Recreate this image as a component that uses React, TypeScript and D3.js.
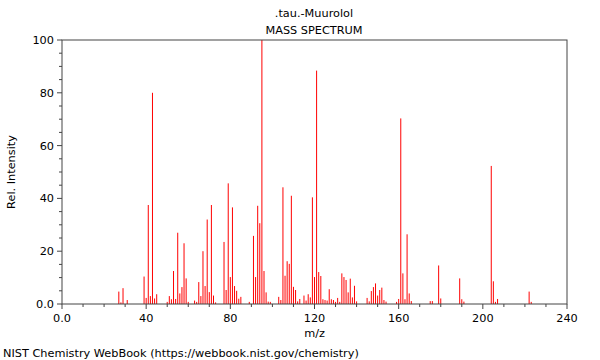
import React from "react";
import * as d3 from "d3";

const mzValues = [
  27, 28, 29, 31, 39, 40, 41, 42, 43, 44, 45, 50, 51, 52, 53, 54, 55, 56, 57, 58, 59, 60,
  63, 64, 65, 66, 67, 68, 69, 70, 71, 72, 73, 77, 78, 79, 80, 81, 82, 83, 84, 85, 89,
  91, 92, 93, 94, 95, 96, 97, 98, 99, 103, 104, 105, 106, 107, 108, 109, 110, 111, 112,
  113, 115, 116, 117, 118, 119, 120, 121, 122, 123, 124, 125, 126, 127, 128, 129, 130,
  131, 132, 133, 134, 135, 136, 137, 138, 139, 140, 145, 146, 147, 148, 149, 150, 151,
  152, 153, 154, 159, 160, 161, 162, 163, 164, 165, 166, 175, 176, 179, 180, 189, 190,
  191, 204, 205, 206, 207, 222, 223,
];
const intensities = [
  4.7, 0.6, 6, 1.5, 10.4, 2.3, 37.5, 3, 80, 2.1, 3.7, 0.8, 3, 1.8, 12.5, 1.9, 27, 4, 6.4, 23, 9.7, 0.8,
  1.3, 0.8, 8.3, 3, 20, 6.8, 32, 4.5, 37.5, 3.2, 0.6, 23.5, 5.3, 45.7, 10.2, 36.6, 6.8, 5, 2, 2.7, 0.8,
  25.8, 10.2, 37.2, 30.6, 100, 12.5, 4.4, 0.9, 0.8, 2.7, 1.5, 44.2, 10.7, 16.2, 15.2, 41, 6.5, 5.3, 1,
  1.9, 3.2, 1.3, 3.7, 2.5, 40.4, 10.2, 88.4, 12.1, 10.6, 1.8, 1.5, 1.3, 5.6, 1.8, 1.5, 0.8,
  2.3, 0.8, 11.6, 10.2, 9.1, 4.4, 9.6, 2.5, 6.9, 1, 2.3, 1, 4.9, 6.4, 7.8, 3.2, 5.3,
  6.2, 1.5, 0.9, 0.8, 1.9, 70.3, 11.6, 1.8, 26.4, 4, 1.1, 1.1, 1.1, 14.6, 2.1, 9.7, 1.8,
  0.9, 52.3, 8.6, 0.8, 1.9, 4.7, 0.8,
];

const xMajorTicks = [0, 40, 80, 120, 160, 200, 240];
const xTickLabels = ["0.0", "40", "80", "120", "160", "200", "240"];
const yMajorTicks = [0, 20, 40, 60, 80, 100];
const yTickLabels = ["0.0", "20", "40", "60", "80", "100"];

const title = ".tau.-Muurolol";
const subtitle = "MASS SPECTRUM";
const xTitle = "m/z";
const yTitle = "Rel. Intensity";
const footer = "NIST Chemistry WebBook (https://webbook.nist.gov/chemistry)";

export default function App() {
  const W = 600, H = 360;
  const left = 62, right = 567, top = 40, bottom = 304;
  const x = d3.scaleLinear().domain([0, 240]).range([left, right]);
  const y = d3.scaleLinear().domain([0, 100]).range([bottom, top]);
  const axisColor = "#444";
  const font = "DejaVu Sans, sans-serif";
  const fs = 11.3;
  const xMinor = d3.range(0, 241, 10).filter((v) => v % 40 !== 0);
  const yMinor = d3.range(0, 101, 5).filter((v) => v % 20 !== 0);

  return (
    <svg width={W} height={H} style={{ position: "absolute", left: 0, top: 0, background: "#fff" }}
      fontFamily={font}>
      <rect x={0} y={0} width={W} height={H} fill="#fff" />
      <text x={314} y={17} fontSize={fs} textAnchor="middle" fill="#000">{title}</text>
      <text x={314} y={34} fontSize={fs} textAnchor="middle" fill="#000">{subtitle}</text>

      {mzValues.map((m, i) => (
        <line key={"p" + i} x1={x(m)} x2={x(m)} y1={y(0)} y2={y(intensities[i])}
          stroke="#ff0000" strokeWidth={1} />
      ))}

      <rect x={left} y={top} width={right - left} height={bottom - top}
        fill="none" stroke={axisColor} strokeWidth={1} />

      {xMajorTicks.map((v, i) => (
        <g key={"xt" + i}>
          <line x1={x(v)} x2={x(v)} y1={bottom} y2={bottom + 5} stroke={axisColor} />
          <text x={x(v)} y={bottom + 18} fontSize={fs} textAnchor="middle" fill="#000">{xTickLabels[i]}</text>
        </g>
      ))}
      {xMinor.map((v, i) => (
        <line key={"xm" + i} x1={x(v)} x2={x(v)} y1={bottom} y2={bottom + 3} stroke={axisColor} />
      ))}
      {yMajorTicks.map((v, i) => (
        <g key={"yt" + i}>
          <line x1={left - 5} x2={left} y1={y(v)} y2={y(v)} stroke={axisColor} />
          <text x={left - 8} y={y(v) + 4} fontSize={fs} textAnchor="end" fill="#000">{yTickLabels[i]}</text>
        </g>
      ))}
      {yMinor.map((v, i) => (
        <line key={"ym" + i} x1={left - 3} x2={left} y1={y(v)} y2={y(v)} stroke={axisColor} />
      ))}

      <text x={(left + right) / 2} y={337} fontSize={fs} textAnchor="middle" fill="#000">{xTitle}</text>
      <text transform={`translate(15, ${(top + bottom) / 2}) rotate(-90)`} fontSize={fs}
        textAnchor="middle" fill="#000">{yTitle}</text>
      <text x={3} y={357} fontSize={fs} fill="#000">{footer}</text>
    </svg>
  );
}
